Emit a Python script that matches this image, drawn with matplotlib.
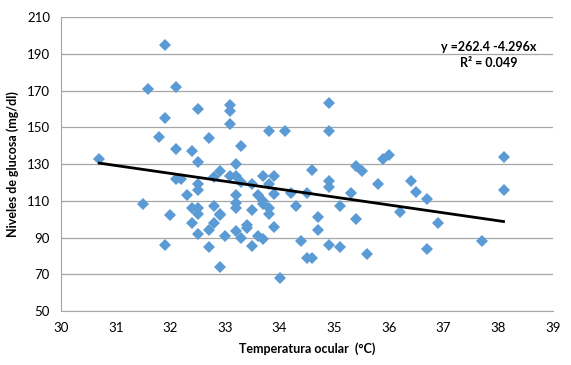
import matplotlib.pyplot as plt
import numpy as np

plt.rcParams['font.family'] = ['Lato', 'DejaVu Sans']

# temperatura ocular (°C) and glucosa (mg/dl)
temp = [30.7, 31.5, 31.6, 31.8, 31.9, 31.9, 31.9, 32.0, 32.1, 32.1,
        32.1, 32.2, 32.3, 32.4, 32.4, 32.4, 32.5, 32.5, 32.5, 32.5,
        32.5, 32.5, 32.5, 32.7, 32.7, 32.7, 32.8, 32.8, 32.8, 32.9,
        32.9, 32.9, 32.9, 33.0, 33.1, 33.1, 33.1, 33.1, 33.2, 33.2,
        33.2, 33.2, 33.2, 33.2, 33.3, 33.3, 33.3, 33.4, 33.4, 33.5,
        33.5, 33.5, 33.6, 33.6, 33.7, 33.7, 33.7, 33.7, 33.8, 33.8,
        33.8, 33.8, 33.9, 33.9, 33.9, 34.0, 34.1, 34.2, 34.3, 34.4,
        34.5, 34.5, 34.6, 34.6, 34.7, 34.7, 34.9, 34.9, 34.9, 34.9,
        34.9, 35.1, 35.1, 35.3, 35.4, 35.4, 35.5, 35.6, 35.8, 35.9,
        36.0, 36.2, 36.4, 36.5, 36.7, 36.7, 36.9, 37.7, 38.1, 38.1]
glucosa = [133, 108, 171, 145, 195, 155, 86, 102, 172, 138,
           122, 122, 113, 137, 106, 98, 160, 131, 119, 116,
           106, 103, 92, 144, 94, 85, 123, 107, 98, 126,
           103, 102, 74, 91, 162, 159, 152, 123.5, 130, 123.5,
           113, 109, 106, 93.5, 140, 120, 90, 96.6, 95.4, 119,
           105, 85.6, 113, 91, 123.5, 110, 108.5, 89, 148, 119,
           106, 103, 123.5, 113.5, 95.7, 68, 148, 114, 107, 88,
           114, 79, 127, 79, 101, 94, 163, 148, 121, 117.5,
           85.7, 107, 85, 114, 129, 100, 126, 81, 119, 133,
           135, 104, 121, 115, 111, 84, 98, 88, 134, 116]

# trend line as shown on the chart
intercept, slope = 262.4, -4.296

fig = plt.figure(figsize=(5.71, 3.65), dpi=100)
ax = fig.add_axes([0.107, 0.148, 0.861, 0.805])

ax.plot(temp, glucosa, linestyle='none', marker='D', markersize=6,
        color='#5B9BD5', markeredgewidth=0, zorder=3)
xl = np.array([min(temp), max(temp)])
ax.plot(xl, intercept + slope * xl, color='black', linewidth=2, zorder=4)

ax.set_xlim(30, 39)
ax.set_ylim(50, 210)
ax.set_xticks(range(30, 40))
ax.set_yticks(range(50, 211, 20))
ax.grid(axis='y', color='#A6A6A6', linewidth=0.9)
ax.set_axisbelow(True)
ax.tick_params(length=0, labelsize=9.5, pad=8)
for s in ['top', 'right']:
    ax.spines[s].set_visible(False)
ax.spines['left'].set_color('#A6A6A6')
ax.spines['bottom'].set_color('#A6A6A6')

ax.set_xlabel('Temperatura ocular  (°C)', fontsize=9, fontweight='bold', labelpad=6)
ax.set_ylabel('Niveles de glucosa (mg/dl)', fontsize=9, fontweight='bold', labelpad=6)

ax.text(0.87, 0.90, 'y =262.4 -4.296x', transform=ax.transAxes, ha='center',
        va='center', fontsize=9, fontweight='bold')
ax.text(0.87, 0.845, 'R² = 0.049', transform=ax.transAxes, ha='center',
        va='center', fontsize=9, fontweight='bold')

fig.savefig('out.png', dpi=100)
